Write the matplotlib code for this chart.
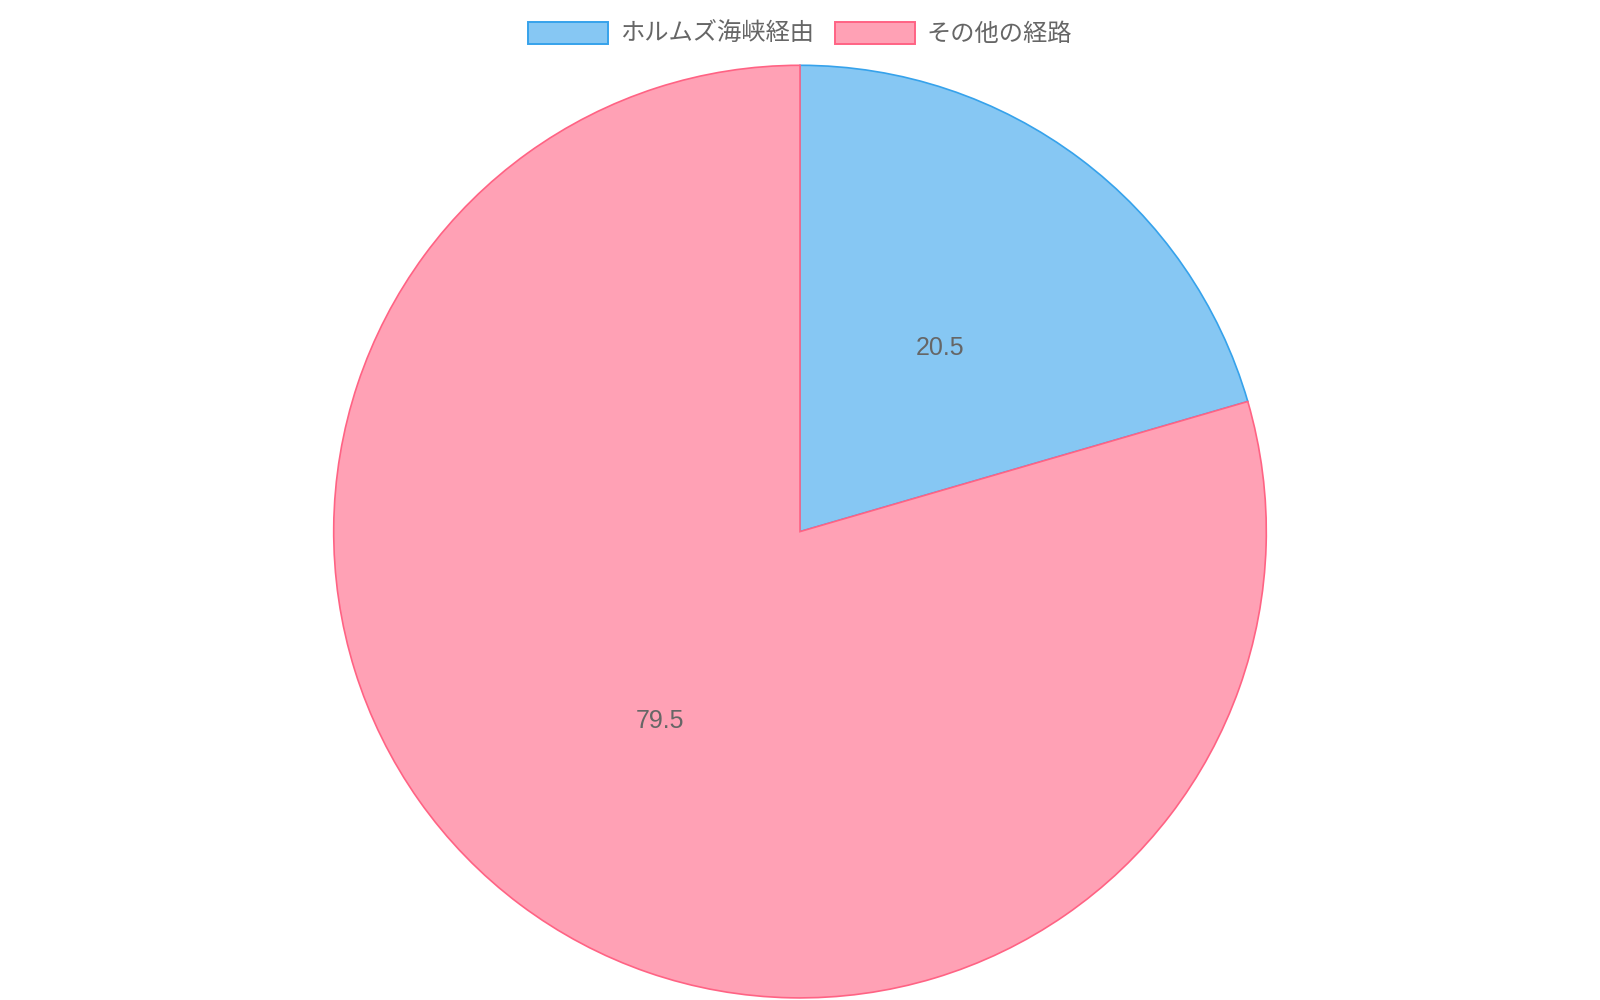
import matplotlib
matplotlib.use('Agg')
import matplotlib.pyplot as plt
from matplotlib.patches import Patch
import numpy as np

plt.rcParams['font.family'] = ['Liberation Sans', 'Noto Sans CJK JP', 'DejaVu Sans']

# data
labels = ['ホルムズ海峡経由', 'その他の経路']
values = [20.5, 79.5]
fill_colors = ['#86c7f3', '#ffa1b5']
edge_colors = ['#36a2eb', '#ff6384']

fig = plt.figure(figsize=(16, 10), dpi=100)
ax = fig.add_axes([0, 0, 1, 1])

wedges, _ = ax.pie(values, startangle=90, counterclock=False,
                   colors=fill_colors, radius=1,
                   wedgeprops=dict(linewidth=1.2))
for w, ec in zip(wedges, edge_colors):
    w.set_edgecolor(ec)

# value labels at half radius, mid angle
for v, w in zip(values, wedges):
    mid = np.deg2rad((w.theta1 + w.theta2) / 2)
    ax.text(0.5 * np.cos(mid), 0.5 * np.sin(mid) - 0.006, f'{v}', ha='center', va='center',
            fontsize=18, color='#666666')

# map pie into figure pixels
r_px = 466.3
cx, cy = 800, 468.4
ax.set_xlim(-cx / r_px, (1600 - cx) / r_px)
ax.set_ylim(-cy / r_px, (1000 - cy) / r_px)
ax.set_aspect('auto')
ax.axis('off')

handles = [Patch(facecolor=f, edgecolor=e, linewidth=1.4) for f, e in zip(fill_colors, edge_colors)]
fig.legend(handles, labels, loc='center', bbox_to_anchor=(0.5, 0.966), ncol=2,
           frameon=False, fontsize=17.5, labelcolor='#666666',
           handlelength=3.3, handleheight=1.0, columnspacing=0.85, handletextpad=0.5)

fig.savefig('out.png', dpi=100)
